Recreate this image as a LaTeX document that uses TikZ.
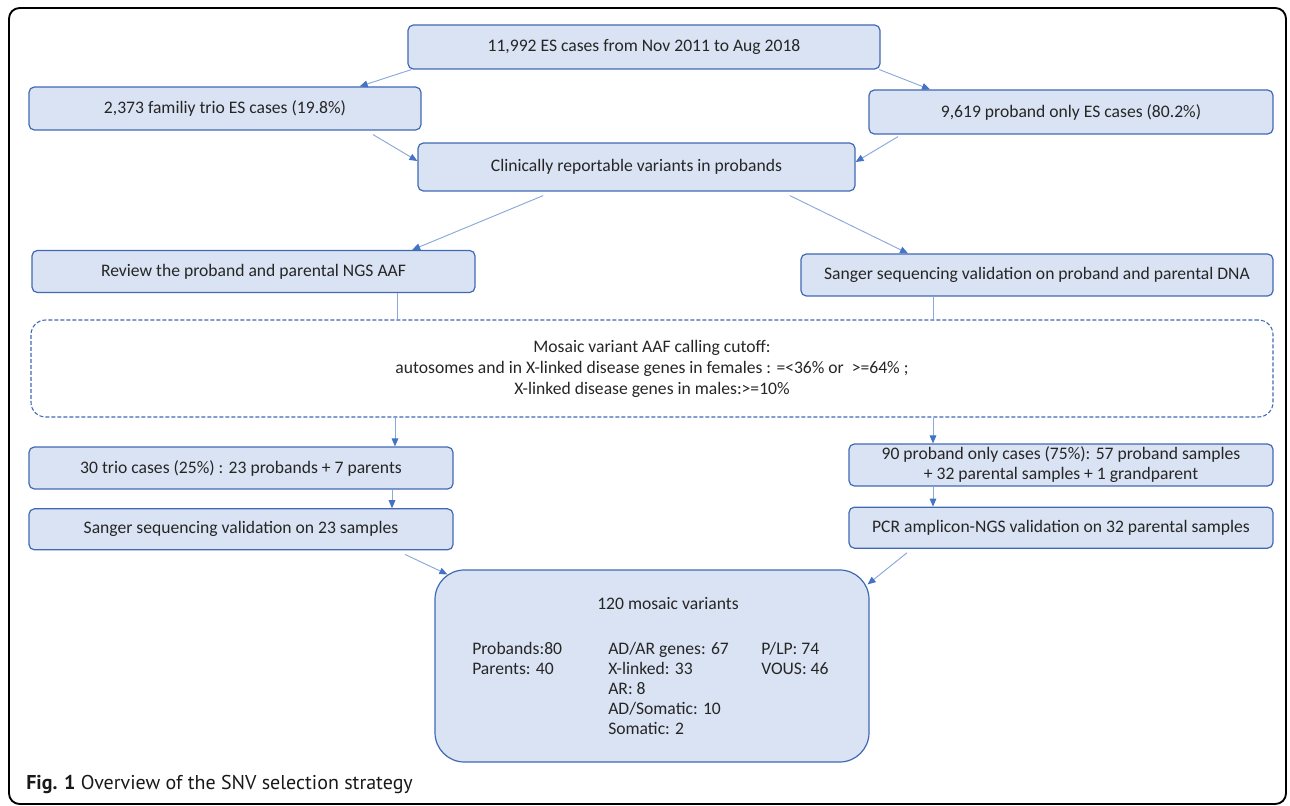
\documentclass[tikz,border=0pt]{standalone}
\usepackage{fontspec}
\setmainfont{Carlito}
\newfontfamily\capfont{PT Sans}
\usepackage[dvipsnames]{xcolor}
\usetikzlibrary{arrows.meta,positioning}
\definecolor{boxfill}{HTML}{DAE3F3}
\definecolor{boxline}{HTML}{4069B4}
\definecolor{linkline}{HTML}{8AA8DA}
\definecolor{tipblue}{HTML}{4472C4}
\definecolor{textgray}{HTML}{262626}

\begin{document}
\begin{tikzpicture}[x=0.75pt, y=-0.75pt, >={Triangle[length=6pt,width=5pt,color=tipblue]}, node distance=46pt,
                main node/.style={rectangle, rounded corners=4pt, draw=boxline, fill=boxfill, line width=0.9pt, inner sep=0pt, align=center, text=textgray, font=\fontsize{13.2}{15}\selectfont},
                cutoff node/.style={rectangle, rounded corners=11pt, draw=boxline, line width=0.8pt, dash pattern=on 3pt off 1.5pt, inner sep=0pt, align=center, text=textgray, font=\fontsize{13.2}{15.75}\selectfont},
                big node/.style={main node, rounded corners=22pt},
                inner text/.style={inner sep=0pt, align=left, text=textgray, font=\fontsize{13.2}{15}\selectfont}]
                \useasboundingbox (0,0) rectangle (1290,806);
                \draw[line width=1.4pt, rounded corners=8pt] (9,8) rectangle (1286,804);

                \node[main node, minimum width=354pt, minimum height=33pt] (1) at (644,47) {11,992 ES cases from Nov 2011 to Aug 2018};
                \node[main node, minimum width=294pt, minimum height=32.25pt] (2) at (225,108.5) {2,373 familiy trio ES cases (19.8\%)};
                \node[main node, minimum width=303pt, minimum height=33pt] (3) at (1071,112) {9,619 proband only ES cases (80.2\%)};
                \node[main node, minimum width=327.75pt, minimum height=36pt] (4) at (636.5,167) {Clinically reportable variants in probands};
                \node[main node, minimum width=332.25pt, minimum height=31.5pt] (5) at (253.5,271.5) {Review the proband and parental NGS AAF};
                \node[main node, minimum width=354pt, minimum height=31.5pt] (6) at (1037,275) {Sanger sequencing validation on proband and parental DNA};
                \node[cutoff node, minimum width=931.5pt, minimum height=72.75pt] (7) at (652,368.5) {Mosaic variant AAF calling cutoff:\\autosomes and in X-linked disease genes in females : =<36\% or\ \ >=64\% ;\\X-linked disease genes in males:>=10\%};
                \node[main node, minimum width=318pt, minimum height=31.5pt] (8) at (241,468) {30 trio cases (25\%) : 23 probands + 7 parents};
                \node[main node, minimum width=318pt, minimum height=30.75pt] (9) [below of = 8] {Sanger sequencing validation on 23 samples};
                \node[main node, minimum width=318pt, minimum height=31.5pt] (10) at (1061,465) {90 proband only cases (75\%): 57 proband samples\\+ 32 parental samples + 1 grandparent};
                \node[main node, minimum width=318pt, minimum height=30.75pt] (11) [below of = 10, yshift=-1pt] {PCR amplicon-NGS validation on 32 parental samples};
                \node[big node, minimum width=325.5pt, minimum height=144pt] (12) at (652,666) {};

                \node[inner text] (t) at (668,604) {120 mosaic variants};
                \node[inner text, anchor=north west] (c1) at (472,642) {Probands:80\\Parents: 40};
                \node[inner text, anchor=north west] (c2) at (608,642) {AD/AR genes: 67\\X-linked: 33\\AR: 8\\AD/Somatic: 10\\Somatic: 2};
                \node[inner text, anchor=north west] (c3) at (761,642) {P/LP: 74\\VOUS: 46};

                \node[anchor=base west, inner sep=0pt, font=\capfont\fontsize{15}{18}\selectfont, text=black!90] (cap) at (26,789) {\textbf{Fig. 1} Overview of the SNV selection strategy};

                \coordinate (e1) at ([xshift=107.6pt]5.south);
                \coordinate (f1) at ([xshift=-78pt]6.south);
                \coordinate (h1) at ([xshift=115.5pt]8.north);
                \coordinate (j1) at ([xshift=-96pt]10.north);
                \coordinate (i1) at ([xshift=113.25pt]9.north);
                \coordinate (k1) at ([xshift=-96pt]11.north);

                \path[->, color=linkline, line width=0.7pt]
                    ([xshift=3pt]1.south west) edge ([xshift=101pt]2.north)
                    ([xshift=-1pt]1.south east) edge ([xshift=-105.75pt]3.north)
                    ([xshift=111pt, yshift=-3pt]2.south) edge ([yshift=4.5pt]4.west)
                    ([xshift=-129.75pt, yshift=-1.5pt]3.south) edge ([yshift=3.75pt]4.east)
                    ([xshift=-70pt, yshift=-3pt]4.south) edge ([xshift=119pt]5.north)
                    ([xshift=115pt, yshift=-3pt]4.south) edge ([xshift=-96.75pt]6.north)
                    (e1) edge[-] (e1 |- 7.north)
                    (f1) edge[-] (f1 |- 7.north)
                    (h1 |- 7.south) edge (h1)
                    (j1 |- 7.south) edge (j1)
                    (i1 |- 8.south) edge (i1)
                    (k1 |- 10.south) edge (k1)
                    ([xshift=123pt, yshift=-3pt]9.south) edge ([xshift=9.75pt, yshift=-3.75pt]12.north west)
                    ([xshift=-115.5pt, yshift=-3pt]11.south) edge ([xshift=-1.5pt, yshift=-11.25pt]12.north east)
                ;
            \end{tikzpicture}
\end{document}
